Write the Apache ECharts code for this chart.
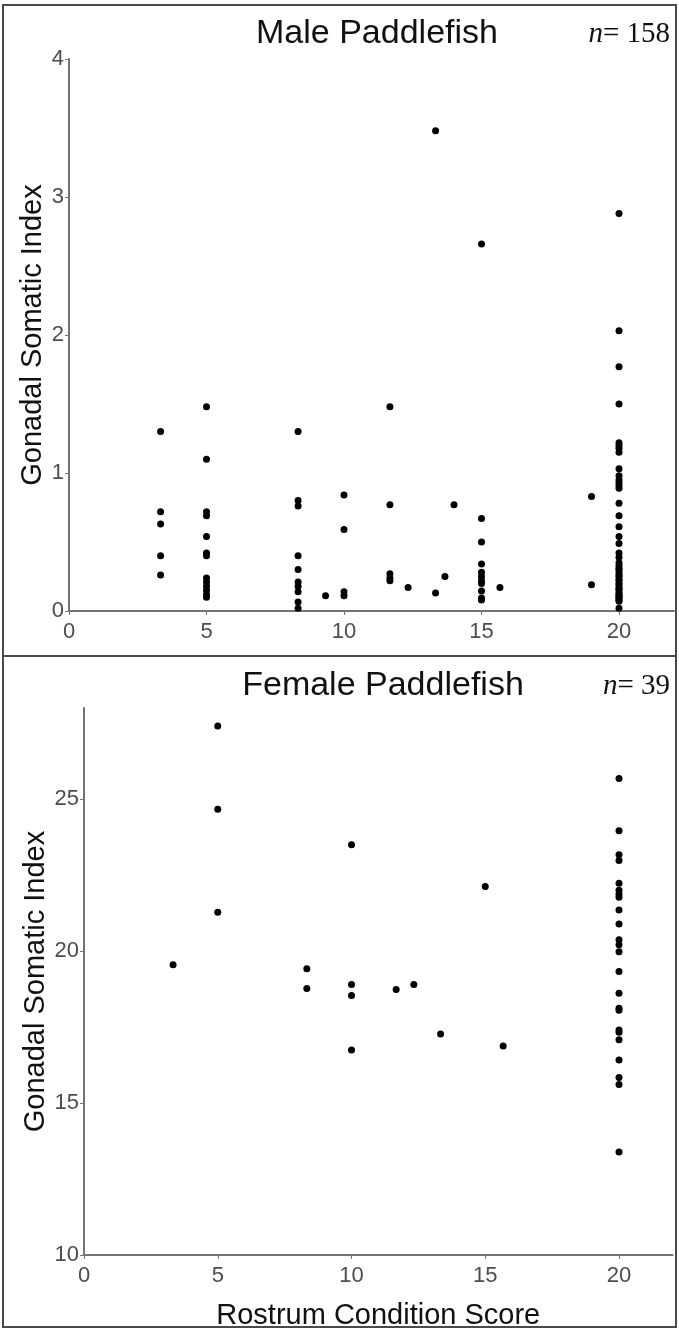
<!DOCTYPE html>
<html>
<head>
<meta charset="utf-8">
<script src="https://cdn.jsdelivr.net/npm/echarts@6/dist/echarts.min.js"></script>
<style>
html,body{margin:0;padding:0;background:#fff;}
#chart{width:679px;height:1331px;}
</style>
</head>
<body>
<div id="chart"></div>
<script>
// ---- Data ----
const maleScores = [3.33, 5, 8.33, 9.33, 10, 11.67, 12.33, 13.33, 13.67, 14, 15, 15.67, 19, 20];
const maleGSIByScore = [
  [1.30, 0.72, 0.63, 0.40, 0.26],
  [1.48, 1.10, 0.72, 0.69, 0.54, 0.42, 0.40, 0.24, 0.21, 0.18, 0.15, 0.12, 0.10],
  [1.30, 0.80, 0.76, 0.40, 0.30, 0.21, 0.18, 0.14, 0.065, 0.02],
  [0.11],
  [0.84, 0.59, 0.14, 0.11],
  [1.48, 0.77, 0.27, 0.24, 0.22],
  [0.17],
  [3.48, 0.13],
  [0.25],
  [0.77],
  [2.66, 0.67, 0.50, 0.34, 0.28, 0.25, 0.22, 0.20, 0.145, 0.095, 0.08],
  [0.17],
  [0.83, 0.19],
  [2.88, 2.03, 1.77, 1.50, 1.22, 1.20, 1.18, 1.15, 1.03, 0.98, 0.95, 0.93, 0.91, 0.89,
   0.78, 0.69, 0.61, 0.54, 0.49, 0.42, 0.39, 0.35, 0.33, 0.31, 0.30, 0.28, 0.26, 0.25,
   0.23, 0.22, 0.20, 0.19, 0.17, 0.16, 0.15, 0.13, 0.12, 0.11, 0.10, 0.09, 0.08, 0.07, 0.02]
];
const femaleScores = [3.33, 5, 8.33, 10, 11.67, 12.33, 13.33, 15, 15.67, 20];
const femaleGSIByScore = [
  [19.55],
  [27.41, 24.67, 21.28],
  [19.42, 18.77],
  [23.5, 18.9, 18.54, 16.75],
  [18.74],
  [18.9],
  [17.27],
  [22.13],
  [16.88],
  [25.68, 23.96, 23.17, 22.98, 22.23, 22.0, 21.87, 21.77, 21.35, 20.89, 20.37, 20.21,
   19.98, 19.33, 18.61, 18.12, 18.05, 17.40, 17.33, 17.08, 16.42, 15.84, 15.61, 13.39]
];
const xTicks = [0, 5, 10, 15, 20];
const maleYTicks = [0, 1, 2, 3, 4];
const femaleYTicks = [10, 15, 20, 25];
const maleTitle = 'Male Paddlefish';
const femaleTitle = 'Female Paddlefish';
const maleN = 158;
const femaleN = 39;
const yName = 'Gonadal Somatic Index';
const xName = 'Rostrum Condition Score';

function pairs(scores, groups) {
  const out = [];
  scores.forEach((s, i) => groups[i].forEach(v => out.push([s, v])));
  return out;
}

const axisGray = '#737373';
const labelGray = '#4d4d4d';
const sans = '"Liberation Sans", Arial, sans-serif';
const serif = '"Liberation Serif", "Times New Roman", serif';

const chart = echarts.init(document.getElementById('chart'), null, {renderer: 'canvas'});

function xAxisCfg(idx) {
  return {
    type: 'value', gridIndex: idx, min: 0, max: 22, interval: 5,
    splitLine: {show: false},
    axisLine: {show: true, onZero: false, lineStyle: {color: axisGray, width: 2}},
    axisTick: {show: true, length: 4, customValues: xTicks, lineStyle: {color: axisGray, width: 1}},
    axisLabel: {customValues: xTicks, color: labelGray, fontSize: 22, fontFamily: sans, margin: 10}
  };
}

function yAxisCfg(idx, min, max, ticks, gap) {
  return {
    type: 'value', gridIndex: idx, min: min, max: max, interval: 5,
    name: yName, nameLocation: 'middle', nameGap: gap, nameMoveOverlap: false,
    nameTextStyle: {fontFamily: sans, fontSize: 29, color: '#111'},
    splitLine: {show: false},
    axisLine: {show: true, onZero: false, lineStyle: {color: axisGray, width: 2}},
    axisTick: {show: true, length: 4, customValues: ticks, lineStyle: {color: axisGray, width: 1}},
    axisLabel: {customValues: ticks, color: labelGray, fontSize: 22, fontFamily: sans, margin: 5}
  };
}

const maleY = yAxisCfg(0, 0, 4, maleYTicks, 22);
maleY.interval = 1;

const option = {
  backgroundColor: '#fff',
  animation: false,
  title: [
    {text: maleTitle, left: 372, top: 12, textAlign: 'center',
     textStyle: {fontFamily: sans, fontSize: 34, fontWeight: 'normal', color: '#111'}},
    {text: '{i|n}= ' + maleN, right: 4, top: 15,
     textStyle: {fontFamily: serif, fontSize: 29, fontWeight: 'normal', color: '#111',
       rich: {i: {fontFamily: serif, fontStyle: 'italic', fontSize: 29, color: '#111'}}}},
    {text: femaleTitle, left: 378, top: 664, textAlign: 'center',
     textStyle: {fontFamily: sans, fontSize: 34, fontWeight: 'normal', color: '#111'}},
    {text: '{i|n}= ' + femaleN, right: 4, top: 667,
     textStyle: {fontFamily: serif, fontSize: 29, fontWeight: 'normal', color: '#111',
       rich: {i: {fontFamily: serif, fontStyle: 'italic', fontSize: 29, color: '#111'}}}}
  ],
  grid: [
    {left: 69, top: 59, width: 605, height: 552, containLabel: false},
    {left: 84, top: 708, width: 588.5, height: 552, containLabel: false}
  ],
  xAxis: [
    xAxisCfg(0),
    Object.assign(xAxisCfg(1), {
      name: xName, nameLocation: 'middle', nameGap: 46,
      nameTextStyle: {fontFamily: sans, fontSize: 29, color: '#111'}
    })
  ],
  yAxis: [
    maleY,
    yAxisCfg(1, 10, 28, femaleYTicks, 34)
  ],
  series: [
    {type: 'scatter', xAxisIndex: 0, yAxisIndex: 0, symbol: 'circle', symbolSize: 7,
     itemStyle: {color: '#000', opacity: 1}, data: pairs(maleScores, maleGSIByScore)},
    {type: 'scatter', xAxisIndex: 1, yAxisIndex: 1, symbol: 'circle', symbolSize: 7,
     itemStyle: {color: '#000', opacity: 1}, data: pairs(femaleScores, femaleGSIByScore)}
  ],
  graphic: [
    {type: 'rect', shape: {x: 3, y: 5, width: 673, height: 1322}, silent: true,
     style: {fill: 'none', stroke: '#4a4a4a', lineWidth: 2}},
    {type: 'line', shape: {x1: 3, y1: 656, x2: 676, y2: 656}, silent: true,
     style: {stroke: '#4a4a4a', lineWidth: 2}}
  ]
};
chart.setOption(option);
</script>
</body>
</html>
